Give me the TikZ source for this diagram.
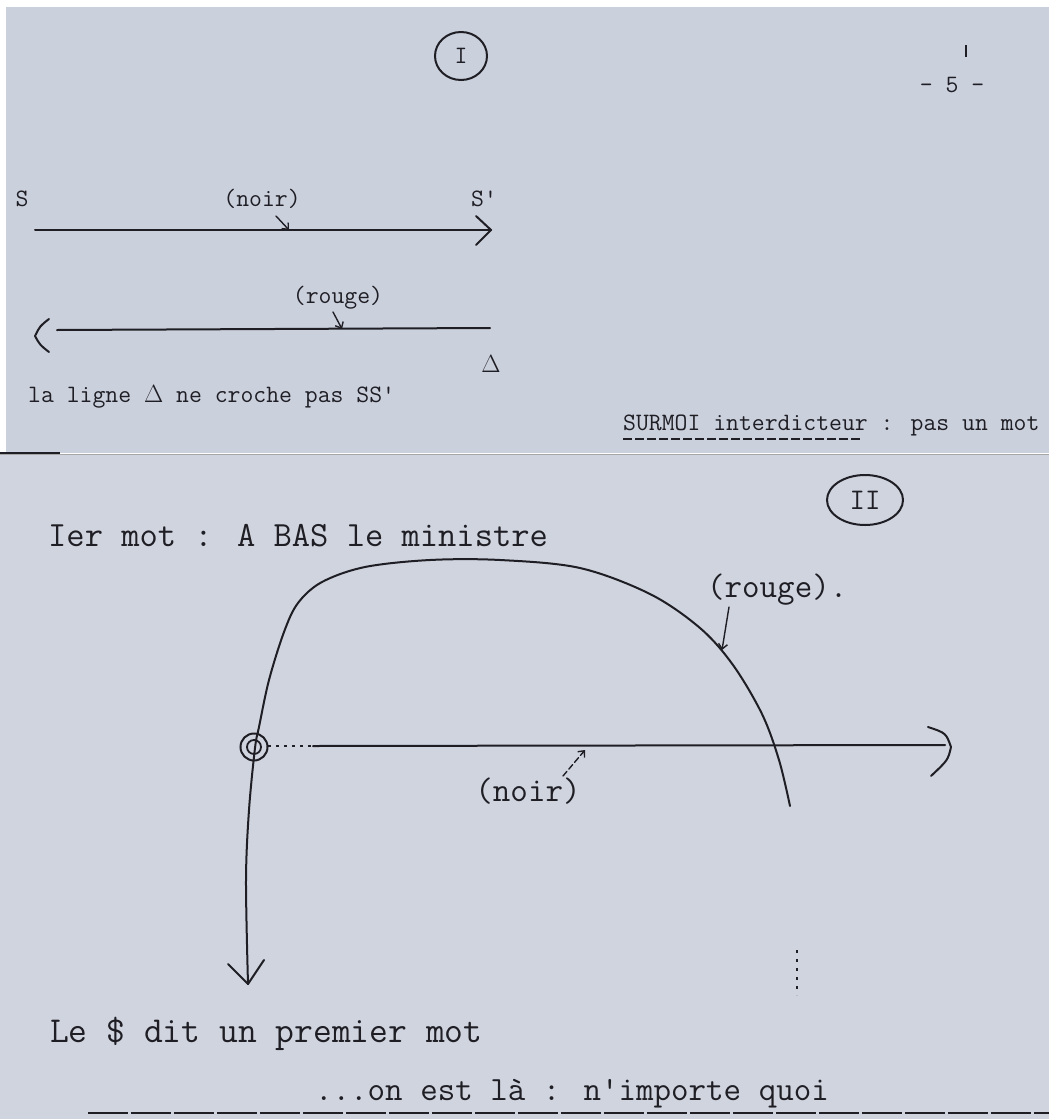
\documentclass[tikz,border=0pt]{standalone}
\usepackage{fontspec}
\usetikzlibrary{arrows.meta,shapes.geometric}
\definecolor{papertop}{RGB}{203,208,221}
\definecolor{paperbot}{RGB}{208,212,223}
\definecolor{ink}{RGB}{30,30,36}
\tikzset{
  typ/.style={font=\ttfamily\fontsize{34}{34}\selectfont, text=ink, inner sep=0pt},
  typs/.style={font=\ttfamily\fontsize{25}{25}\selectfont, text=ink, inner sep=0pt},
  inkline/.style={draw=ink, line width=2pt, line cap=round, line join=round},
  pointer/.style={draw=ink, line width=1.4pt, line cap=round, -{Straight Barb[length=5pt,width=9pt]}},
  ring/.style={draw=ink, line width=2pt, ellipse, inner sep=0pt}
}
\begin{document}
\begin{tikzpicture}[x=1pt,y=-1pt]
\useasboundingbox (0,0) rectangle (1049,1119);
\clip (0,0) rectangle (1049,1119);
% paper
\fill[white] (0,0) rectangle (1049,1119);
\fill[papertop] (6,7) rectangle (1049,453);
\fill[paperbot] (0,455) rectangle (1049,1119);
\draw[gray!70, line width=0.8pt] (0,454) -- (1049,454);
\draw[ink, line width=1.4pt] (0,453) -- (60,453);

% ---------- section I ----------
\node[ring, minimum width=52pt, minimum height=48pt, font=\ttfamily\fontsize{25}{25}\selectfont, text=ink] (circI) at (461,56) {I};
\node[typs, anchor=base] (pagenum) at (952,92) {- 5 -};
\coordinate (tickA) at (966,45);
\coordinate (tickB) at (966,57);
\draw[ink, line width=1.2pt] (tickA) -- (tickB);

\node[typs, anchor=base] (S) at (22,206) {S};
\node[typs, anchor=base] (Sp) at (484,206) {S'};
\node[typs, anchor=base] (noirA) at (262,206) {(noir)};

\coordinate (lineAs) at (35,230);
\coordinate (lineAe) at (491,230);
\draw[inkline] (lineAs) -- (lineAe);
\coordinate (headAu) at (476,216);
\coordinate (headAd) at (476,245);
\draw[inkline] (headAu) -- (lineAe) -- (headAd);
\coordinate (ptrAs) at (276,216);
\coordinate (ptrAe) at (289,230);
\draw[pointer] (ptrAs) -- (ptrAe);

\node[typs, anchor=base] (rougeA) at (338,303) {(rouge)};
\coordinate (lineBs) at (57,330);
\coordinate (lineBe) at (490,328);
\draw[inkline] (lineBs) -- (lineBe);
\coordinate (headBu) at (49,319);
\coordinate (headBt) at (35,336);
\coordinate (headBd) at (49,352);
\draw[inkline] (headBu) .. controls (40,326) .. (headBt) .. controls (40,345) .. (headBd);
\coordinate (ptrBs) at (333,312);
\coordinate (ptrBe) at (342,329);
\draw[pointer] (ptrBs) -- (ptrBe);

\node[font=\fontsize{28}{28}\selectfont, text=ink, inner sep=0pt, anchor=base] (delta) at (491,372) {$\Delta$};
\node[typs, anchor=base west] (ligne) at (28,402) {la ligne $\Delta$ ne croche pas SS'};

\node[typs, anchor=base west] (surmoi) at (623,430) {SURMOI interdicteur : pas un mot};
\coordinate (ulA) at (623,439);
\coordinate (ulB) at (860,439);
\draw[ink, line width=1.2pt, dash pattern=on 9pt off 3pt] (ulA) -- (ulB);

% ---------- section II ----------
\node[ring, minimum width=76pt, minimum height=50pt, font=\ttfamily\fontsize{30}{30}\selectfont, text=ink] (circII) at (865,500) {II};
\node[typ, font=\ttfamily\fontsize{35.5}{35.5}\selectfont, anchor=base west] (premier) at (48,546) {Ier mot : A BAS le ministre};

% the red arc, going down to the subject arrow
\coordinate (arcEnd) at (790,806);
\coordinate (arcTip) at (248,984);
\draw[inkline] plot[smooth, tension=0.55] coordinates {
  (790,806) (779,760) (762,714) (733,665) (700,628) (650,594) (580,568)
  (500,560) (430,560) (365,567) (322,582) (298,603) (284,632) (269,680)
  (259,727) (255,748) (249,810) (246,880) (248,984)};
\coordinate (headCl) at (228,964);
\coordinate (headCr) at (264,960);
\draw[inkline] (headCl) -- (arcTip) -- (headCr);

% bullseye
\node[draw=ink, line width=2pt, circle, minimum size=27pt, inner sep=0pt] (eyeOut) at (254,747) {};
\node[draw=ink, line width=1.8pt, circle, minimum size=14pt, inner sep=0pt] (eyeIn) at (254,747) {};

% black line
\coordinate (lineCs) at (268,746);
\coordinate (lineCm) at (313,746);
\coordinate (lineCe) at (945,745);
\draw[ink, line width=2pt, dash pattern=on 3pt off 5pt] (lineCs) -- (lineCm);
\draw[inkline] (lineCm) -- (lineCe);
\coordinate (headCu) at (928,727);
\coordinate (headCt) at (951,747);
\coordinate (headCd) at (931,776);
\draw[inkline] (headCu) .. controls (946,733) .. (headCt) .. controls (948,760) .. (headCd);

\node[typ, anchor=base] (noirB) at (528,801) {(noir)};
\coordinate (ptrCs) at (563,776);
\coordinate (ptrCe) at (585,750);
\draw[pointer, dash pattern=on 6pt off 3pt] (ptrCs) -- (ptrCe);

\node[typ, anchor=base west] (rougeB) at (707,597) {(rouge).};
\coordinate (ptrDs) at (729,607);
\coordinate (ptrDe) at (722,650);
\draw[pointer] (ptrDs) -- (ptrDe);

\coordinate (dotA) at (797,950);
\coordinate (dotB) at (797,995);
\draw[ink, line width=1.6pt, dash pattern=on 3pt off 6pt] (dotA) -- (dotB);

\node[typ, font=\ttfamily\fontsize{36.5}{36.5}\selectfont, anchor=base west] (ledit) at (50,1042) {Le \$ dit un premier mot};
\node[typ, anchor=base] (onest) at (572,1100) {...on est là : n'importe quoi};
\coordinate (bottA) at (88,1113);
\coordinate (bottB) at (1049,1113);
\draw[ink, line width=1.5pt, dash pattern=on 40pt off 3pt] (bottA) -- (bottB);
\end{tikzpicture}
\end{document}
